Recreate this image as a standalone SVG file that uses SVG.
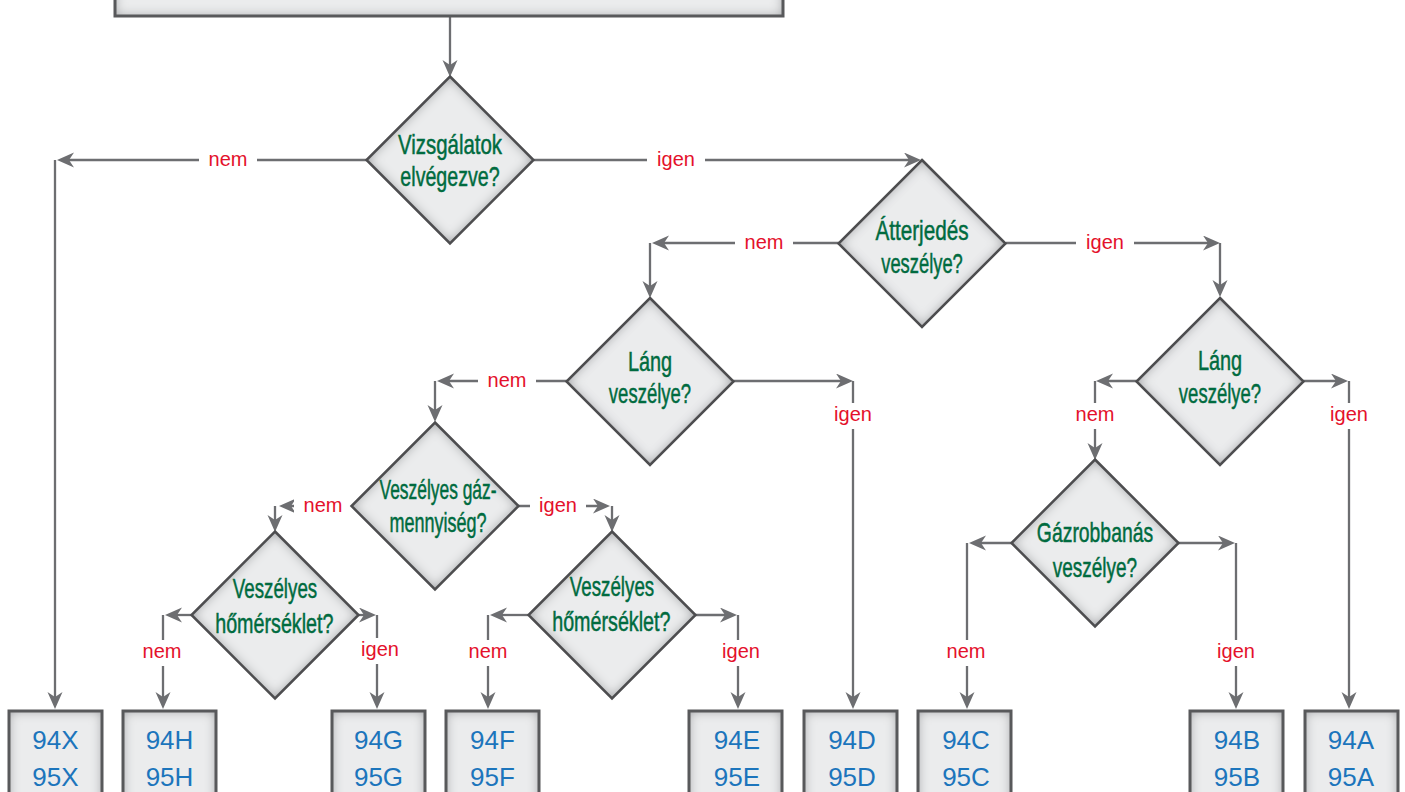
<svg xmlns="http://www.w3.org/2000/svg" width="1405" height="792" viewBox="0 0 1405 792">
<style>
.ln{fill:none;stroke:#6d6e71;stroke-width:2.3;marker-end:url(#ah)}
.df{fill:#ebeced;filter:url(#inset)}
.ds{fill:none;stroke:#4d4d4f;stroke-width:2.5;stroke-linejoin:miter}
.bs{fill:none;stroke:#58595b;stroke-width:3}
.dt{font-family:"Liberation Sans",Arial,sans-serif;font-size:28px;fill:#006b3f;stroke:#006b3f;stroke-width:0.5;text-anchor:middle}
.bt{font-family:"Liberation Sans",Arial,sans-serif;font-size:26px;fill:#1c75bc;text-anchor:middle}
.lb{font-family:"Liberation Sans",Arial,sans-serif;font-size:20px;fill:#e4112b;text-anchor:middle}
.bg{fill:#ffffff}
</style>
<defs>
<marker id="ah" markerUnits="userSpaceOnUse" markerWidth="20" markerHeight="18" refX="11" refY="7.5" orient="auto">
<path d="M0,0 L17,7.5 L0,15 L5,7.5 z" fill="#6d6e71"/>
</marker>
<filter id="inset" x="-20%" y="-20%" width="140%" height="140%">
<feFlood flood-color="#8f9194"/>
<feComposite in2="SourceAlpha" operator="out"/>
<feGaussianBlur stdDeviation="6"/>
<feComposite in2="SourceAlpha" operator="in" result="sh"/>
<feMerge><feMergeNode in="SourceGraphic"/><feMergeNode in="sh"/></feMerge>
</filter>
</defs>
<rect width="1405" height="792" fill="#ffffff"/>

<g id="connectors">
<path class="ln" d="M450,16 V71"/>
<path class="ln" d="M367,160 H63"/><path class="ln" d="M55,160 V703"/>
<path class="ln" d="M534,160 H915"/>
<path class="ln" d="M839,243 H658"/><path class="ln" d="M650,243 V292"/>
<path class="ln" d="M1006,243 H1214"/><path class="ln" d="M1220,243 V291"/>
<path class="ln" d="M567,381 H443"/><path class="ln" d="M435,381 V416"/>
<path class="ln" d="M733,381 H847"/><path class="ln" d="M853,381 V703"/>
<path class="ln" d="M1137,381 H1102"/><path class="ln" d="M1095,381 V454"/>
<path class="ln" d="M1303,381 H1342"/><path class="ln" d="M1349,381 V703"/>
<path class="ln" d="M352,506 H285"/><path class="ln" d="M275,506 V526"/>
<path class="ln" d="M518,506 H604"/><path class="ln" d="M612,506 V526"/>
<path class="ln" d="M192,615 H171"/><path class="ln" d="M163,615 V703"/>
<path class="ln" d="M358,615 H370"/><path class="ln" d="M377,615 V703"/>
<path class="ln" d="M528,615 H496"/><path class="ln" d="M488,615 V703"/>
<path class="ln" d="M695,615 H731"/><path class="ln" d="M738,615 V703"/>
<path class="ln" d="M1012,543 H975"/><path class="ln" d="M967,543 V703"/>
<path class="ln" d="M1178,543 H1229"/><path class="ln" d="M1236,543 V703"/>

<rect class="bg" x="199" y="150" width="58" height="20"/><text class="lb" x="228" y="166">nem</text>
<rect class="bg" x="647" y="150" width="58" height="20"/><text class="lb" x="676" y="166">igen</text>
<rect class="bg" x="735" y="233" width="58" height="20"/><text class="lb" x="764" y="249">nem</text>
<rect class="bg" x="1076" y="233" width="58" height="20"/><text class="lb" x="1105" y="249">igen</text>
<rect class="bg" x="478" y="371" width="58" height="20"/><text class="lb" x="507" y="387">nem</text>
<rect class="bg" x="833" y="403" width="40" height="26"/><text class="lb" x="853" y="421">igen</text>
<rect class="bg" x="1075" y="403" width="40" height="26"/><text class="lb" x="1095" y="421">nem</text>
<rect class="bg" x="1329" y="403" width="40" height="26"/><text class="lb" x="1349" y="421">igen</text>
<rect class="bg" x="294" y="496" width="58" height="20"/><text class="lb" x="323" y="512">nem</text>
<rect class="bg" x="530" y="496" width="56" height="20"/><text class="lb" x="558" y="512">igen</text>
<rect class="bg" x="142" y="640" width="40" height="26"/><text class="lb" x="162" y="658">nem</text>
<rect class="bg" x="360" y="638" width="40" height="26"/><text class="lb" x="380" y="656">igen</text>
<rect class="bg" x="468" y="640" width="40" height="26"/><text class="lb" x="488" y="658">nem</text>
<rect class="bg" x="721" y="640" width="40" height="26"/><text class="lb" x="741" y="658">igen</text>
<rect class="bg" x="946" y="640" width="40" height="26"/><text class="lb" x="966" y="658">nem</text>
<rect class="bg" x="1216" y="640" width="40" height="26"/><text class="lb" x="1236" y="658">igen</text>
</g>

<g id="start">
<rect class="df" x="115" y="-20" width="668" height="36"/>
<rect class="bs" x="115" y="-20" width="668" height="36"/>
</g>

<g id="d1">
<polygon class="df" points="450,76.5 533.5,160 450,243.5 366.5,160"/>
<polygon class="ds" points="450,76.5 533.5,160 450,243.5 366.5,160"/>
<g transform="translate(450,0) scale(0.68,1)">
<text class="dt" x="0" y="154" textLength="153" lengthAdjust="spacingAndGlyphs">Vizsgálatok</text>
<text class="dt" x="0" y="186" textLength="146" lengthAdjust="spacingAndGlyphs">elvégezve?</text>
</g>
</g>

<g id="d2">
<polygon class="df" points="922,160 1005.5,243.5 922,327 838.5,243.5"/>
<polygon class="ds" points="922,160 1005.5,243.5 922,327 838.5,243.5"/>
<g transform="translate(922,0) scale(0.68,1)">
<text class="dt" x="0" y="240" textLength="137" lengthAdjust="spacingAndGlyphs">Átterjedés</text>
<text class="dt" x="0" y="273" textLength="120" lengthAdjust="spacingAndGlyphs">veszélye?</text>
</g>
</g>

<g id="d3">
<polygon class="df" points="650,298 733.5,381.5 650,465 566.5,381.5"/>
<polygon class="ds" points="650,298 733.5,381.5 650,465 566.5,381.5"/>
<g transform="translate(650,0) scale(0.68,1)">
<text class="dt" x="0" y="371" textLength="65" lengthAdjust="spacingAndGlyphs">Láng</text>
<text class="dt" x="0" y="403" textLength="121" lengthAdjust="spacingAndGlyphs">veszélye?</text>
</g>
</g>

<g id="d4">
<polygon class="df" points="1220,298 1303.5,381.5 1220,465 1136.5,381.5"/>
<polygon class="ds" points="1220,298 1303.5,381.5 1220,465 1136.5,381.5"/>
<g transform="translate(1220,0) scale(0.68,1)">
<text class="dt" x="0" y="370" textLength="65" lengthAdjust="spacingAndGlyphs">Láng</text>
<text class="dt" x="0" y="403" textLength="121" lengthAdjust="spacingAndGlyphs">veszélye?</text>
</g>
</g>

<g id="d5">
<polygon class="df" points="435,422.5 518.5,506 435,589.5 351.5,506"/>
<polygon class="ds" points="435,422.5 518.5,506 435,589.5 351.5,506"/>
<g transform="translate(438,0) scale(0.68,1)">
<text class="dt" x="0" y="499" textLength="172" lengthAdjust="spacingAndGlyphs">Veszélyes gáz-</text>
<text class="dt" x="0" y="532" textLength="143" lengthAdjust="spacingAndGlyphs">mennyiség?</text>
</g>
</g>

<g id="d6">
<polygon class="df" points="1095,459.5 1178.5,543 1095,626.5 1011.5,543"/>
<polygon class="ds" points="1095,459.5 1178.5,543 1095,626.5 1011.5,543"/>
<g transform="translate(1095,0) scale(0.68,1)">
<text class="dt" x="0" y="542" textLength="171" lengthAdjust="spacingAndGlyphs">Gázrobbanás</text>
<text class="dt" x="0" y="577" textLength="124" lengthAdjust="spacingAndGlyphs">veszélye?</text>
</g>
</g>

<g id="d7">
<polygon class="df" points="275,531.5 358.5,615 275,698.5 191.5,615"/>
<polygon class="ds" points="275,531.5 358.5,615 275,698.5 191.5,615"/>
<g transform="translate(275,0) scale(0.68,1)">
<text class="dt" x="0" y="598" textLength="124" lengthAdjust="spacingAndGlyphs">Veszélyes</text>
<text class="dt" x="-1" y="633" textLength="174" lengthAdjust="spacingAndGlyphs">hőmérséklet?</text>
</g>
</g>

<g id="d8">
<polygon class="df" points="612,531.5 695.5,615 612,698.5 528.5,615"/>
<polygon class="ds" points="612,531.5 695.5,615 612,698.5 528.5,615"/>
<g transform="translate(612,0) scale(0.68,1)">
<text class="dt" x="0" y="596" textLength="124" lengthAdjust="spacingAndGlyphs">Veszélyes</text>
<text class="dt" x="-1" y="631" textLength="174" lengthAdjust="spacingAndGlyphs">hőmérséklet?</text>
</g>
</g>

<g id="b94X"><rect class="df" x="9" y="711" width="93" height="100"/><rect class="bs" x="9" y="711" width="93" height="100"/><text class="bt" x="55.5" y="749">94X</text><text class="bt" x="55.5" y="786">95X</text></g>
<g id="b94H"><rect class="df" x="123" y="711" width="93" height="100"/><rect class="bs" x="123" y="711" width="93" height="100"/><text class="bt" x="169.5" y="749">94H</text><text class="bt" x="169.5" y="786">95H</text></g>
<g id="b94G"><rect class="df" x="332" y="711" width="93" height="100"/><rect class="bs" x="332" y="711" width="93" height="100"/><text class="bt" x="378.5" y="749">94G</text><text class="bt" x="378.5" y="786">95G</text></g>
<g id="b94F"><rect class="df" x="446" y="711" width="93" height="100"/><rect class="bs" x="446" y="711" width="93" height="100"/><text class="bt" x="492.5" y="749">94F</text><text class="bt" x="492.5" y="786">95F</text></g>
<g id="b94E"><rect class="df" x="689" y="711" width="93" height="100"/><rect class="bs" x="689" y="711" width="93" height="100"/><text class="bt" x="737" y="749">94E</text><text class="bt" x="737" y="786">95E</text></g>
<g id="b94D"><rect class="df" x="804" y="711" width="93" height="100"/><rect class="bs" x="804" y="711" width="93" height="100"/><text class="bt" x="852" y="749">94D</text><text class="bt" x="852" y="786">95D</text></g>
<g id="b94C"><rect class="df" x="918" y="711" width="93" height="100"/><rect class="bs" x="918" y="711" width="93" height="100"/><text class="bt" x="966" y="749">94C</text><text class="bt" x="966" y="786">95C</text></g>
<g id="b94B"><rect class="df" x="1190" y="711" width="93" height="100"/><rect class="bs" x="1190" y="711" width="93" height="100"/><text class="bt" x="1237" y="749">94B</text><text class="bt" x="1237" y="786">95B</text></g>
<g id="b94A"><rect class="df" x="1305" y="711" width="93" height="100"/><rect class="bs" x="1305" y="711" width="93" height="100"/><text class="bt" x="1351" y="749">94A</text><text class="bt" x="1351" y="786">95A</text></g>
</svg>
